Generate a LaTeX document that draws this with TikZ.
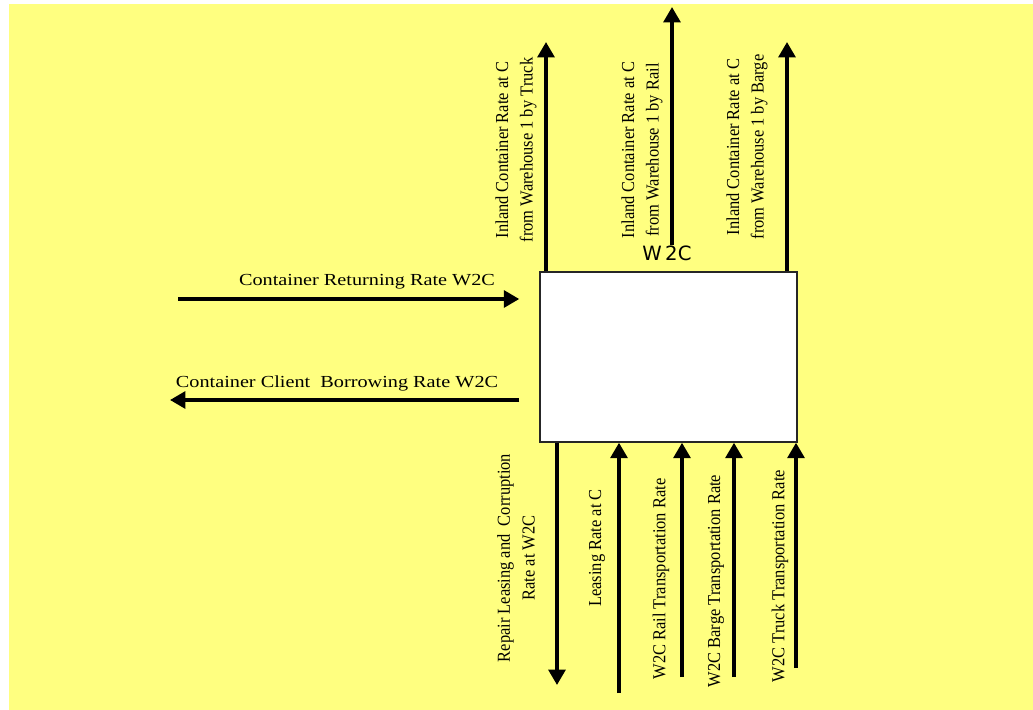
\documentclass[tikz,border=0pt]{standalone}
\usepackage{fontspec}
\setmainfont{Liberation Serif}
\newfontfamily\wideserif[FakeStretch=1.2]{Liberation Serif}
\newfontfamily\tallserif[FakeStretch=0.9]{Liberation Serif}
\newfontfamily\boxsans{DejaVu Sans}
\usepackage{tikz}
\usetikzlibrary{arrows.meta, positioning, calc}
\definecolor{pad_yellow}{RGB}{255,255,128}
\tikzset{
  main_box/.style={rectangle, draw=black!85, fill=white, line width=1pt, minimum width=6.425cm, minimum height=4.25cm},
  flow_arrow/.style={-{Triangle[length=11pt, width=12pt]}, line width=2.6pt, black},
  rate_label/.style={rotate=90, align=center, inner sep=0pt, font=\tallserif\fontsize{13}{17.5}\selectfont},
  side_label/.style={inner sep=0pt, font=\wideserif\fontsize{12}{14}\selectfont},
  box_label/.style={inner sep=0pt, font=\boxsans\fontsize{14}{16}\selectfont}
}

\begin{document}
\begin{tikzpicture}[x=0.025cm, y=-0.025cm]
  % --- 0. Page and yellow panel ---
  \useasboundingbox (0,0) rectangle (1033,710);
  \fill[white] (0,0) rectangle (1033,710);
  \fill[pad_yellow] (9,4) rectangle (1033,710);

  % --- 1. Central W2C box ---
  \node[main_box] (w2c) at (668.5,357) {};
  \node[box_label] (w2c_name) at (667,253) {W\,2C};

  % --- 2. Outgoing flows (top) ---
  \coordinate (truck_out) at (546,42);
  \coordinate (rail_out) at (672,7);
  \coordinate (barge_out) at (787,42);
  \draw[flow_arrow] (w2c.north -| truck_out) -- (truck_out);
  \draw[flow_arrow] (w2c_name.north -| rail_out) -- (rail_out);
  \draw[flow_arrow] (w2c.north -| barge_out) -- (barge_out);

  \node[rate_label] (truck_lbl) at (516,150) {Inland Container Rate at C\\from Warehouse 1 by Truck};
  \node[rate_label] (rail_lbl) at (642,150) {Inland Container Rate at C\\from Warehouse 1 by Rail};
  \node[rate_label] (barge_lbl) at (747,147) {Inland Container Rate at C\\from Warehouse 1 by Barge};

  % --- 3. Side flows (left) ---
  \coordinate (return_in) at (178,299);
  \coordinate (borrow_out) at (170,400);
  \draw[flow_arrow] (return_in) -- ([xshift=-0.5cm]w2c.west |- return_in);
  \draw[flow_arrow] ([xshift=-0.5cm]w2c.west |- borrow_out) -- (borrow_out);

  \node[side_label] (return_lbl) at (367,282) {Container Returning Rate W2C};
  \node[side_label] (borrow_lbl) at (337,383) {Container Client\ \ Borrowing Rate W2C};

  % --- 4. Bottom flows ---
  \coordinate (repair_out) at (557,685);
  \coordinate (leasing_in) at (619,693);
  \coordinate (rail_in) at (682,677);
  \coordinate (barge_in) at (734,677);
  \coordinate (truck_in) at (796,668);
  \draw[flow_arrow] (w2c.south -| repair_out) -- (repair_out);
  \draw[flow_arrow] (leasing_in) -- (w2c.south -| leasing_in);
  \draw[flow_arrow] (rail_in) -- (w2c.south -| rail_in);
  \draw[flow_arrow] (barge_in) -- (w2c.south -| barge_in);
  \draw[flow_arrow] (truck_in) -- (w2c.south -| truck_in);

  \node[rate_label] (repair_lbl) at (516,558) {Repair Leasing and\ \ Corruption\\Rate at W2C};
  \node[rate_label] (leasing_lbl) at (597,548) {Leasing Rate at C};
  \node[rate_label] (rail_in_lbl) at (661,579) {W2C Rail Transportation Rate};
  \node[rate_label] (barge_in_lbl) at (716,581) {W2C Barge Transportation Rate};
  \node[rate_label] (truck_in_lbl) at (780,576) {W2C Truck Transportation Rate};
\end{tikzpicture}
\end{document}
